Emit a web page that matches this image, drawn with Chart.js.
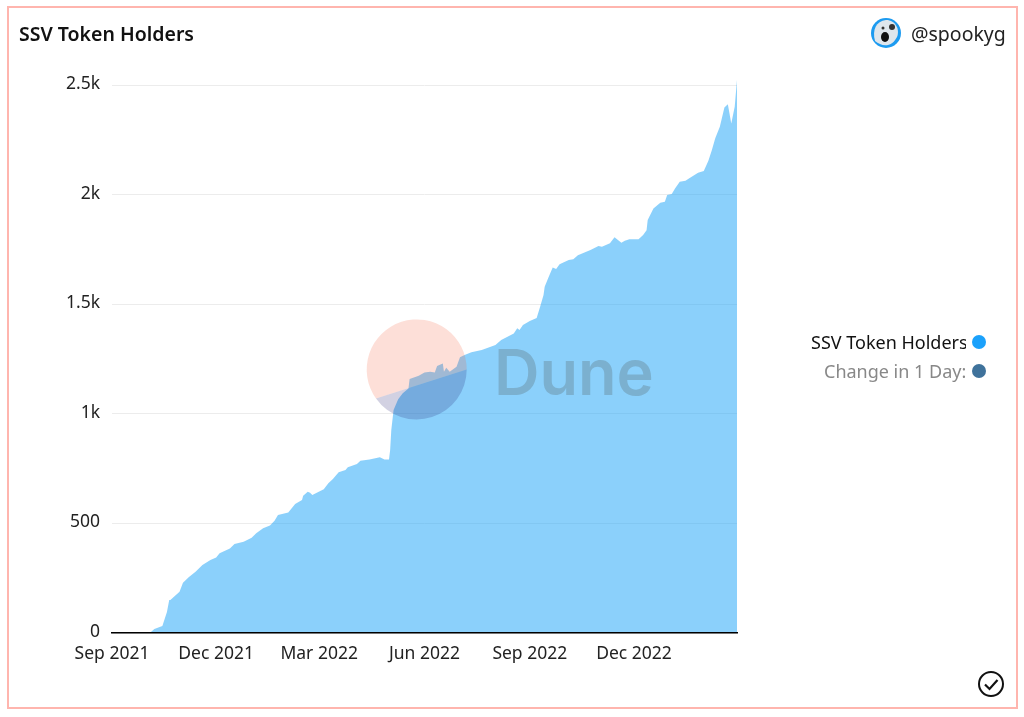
<!DOCTYPE html>
<html>
<head>
<meta charset="utf-8">
<title>SSV Token Holders</title>
<script src="https://cdn.jsdelivr.net/npm/chart.js@4"></script>
<style>
  html, body { margin: 0; padding: 0; background: #fff; }
  body { width: 1024px; height: 717px; position: relative; overflow: hidden; font-family: "Noto Sans", sans-serif; color: #111; }
  #frame { position: absolute; left: 7px; top: 6px; border: 2px solid #ffb5ae; width: 1007px; height: 699px; }
  #graph { position: absolute; left: 0; top: 0; }
  #title { position: absolute; left: 19px; top: 21px; font-size: 19.5px; font-weight: 600; line-height: 26px; white-space: nowrap; }
  #author { position: absolute; left: 911px; top: 20px; font-size: 19.5px; line-height: 28px; color: #222; white-space: nowrap; }
  .legend-text { position: absolute; font-size: 18px; line-height: 24px; white-space: nowrap; overflow: hidden; text-align: left; }
  .legend-dot { position: absolute; left: 972px; width: 14px; height: 14px; border-radius: 50%; }
  svg { position: absolute; left: 0; top: 0; }
</style>
</head>
<body>
<canvas id="graph" width="1024" height="717"></canvas>
<div id="frame"></div>
<svg width="1024" height="717">
  <path d="M376 398.5 A50 50 0 1 1 466.7 369.5 Z" fill="rgba(244,96,62,0.2)"/>
  <path d="M376 398.5 A50 50 0 0 0 466.7 369.5 Z" fill="rgba(30,24,112,0.2)"/>
  <text x="494" y="395" font-family="Inter" font-size="63" font-weight="600" fill="rgba(58,48,36,0.2)">Dune</text>
  <circle cx="886" cy="33" r="15" fill="#1d9bf0"/>
  <path d="M875 41 C872 30 876 21 886 20 C896 20 900 30 897 37 C894 42 892 44 888 45 C883 46 879 44 875 41 Z" fill="#dfe6ec"/>
  <ellipse cx="885" cy="37" rx="4" ry="5" fill="#111"/>
  <circle cx="892" cy="27" r="3" fill="#333"/>
  <circle cx="883" cy="28" r="1.5" fill="#333"/>
  <circle cx="991" cy="684" r="12" fill="none" stroke="#111" stroke-width="2"/>
  <path d="M985 684.5 L989.5 689 L997.5 680" fill="none" stroke="#111" stroke-width="2.2"/>
</svg>
<div id="title">SSV Token Holders</div>
<div id="author">@spookyg</div>
<div id="legend"></div>

<script>
// days since 1 Sep 2021
const days = [0, 33, 37, 44, 48, 50, 51, 59, 62, 67, 73, 79, 86, 91, 94, 103, 107, 115, 122, 126, 132, 138, 142, 145, 154, 160, 166, 167, 171, 173, 175, 185, 189, 193, 198, 204, 206, 214, 217, 225, 234, 238, 242, 243, 244, 246, 250, 254, 259, 260, 268, 273, 278, 282, 284, 289, 290, 292, 295, 301, 304, 308, 314, 323, 335, 340, 351, 354, 356, 359, 365, 371, 374, 377, 378, 381, 385, 388, 391, 399, 403, 407, 418, 425, 428, 435, 439, 445, 448, 452, 460, 464, 467, 468, 473, 479, 483, 485, 489, 492, 496, 501, 504, 512, 517, 521, 524, 527, 531, 535, 538, 541, 544, 546];
const holders = [0, 0, 18, 32, 96, 150, 150, 188, 229, 254, 280, 310, 333, 345, 364, 386, 406, 416, 435, 455, 478, 490, 512, 538, 550, 588, 607, 626, 645, 640, 630, 656, 683, 703, 733, 744, 756, 771, 786, 792, 802, 792, 792, 835, 926, 1017, 1066, 1094, 1116, 1159, 1174, 1189, 1192, 1189, 1218, 1230, 1192, 1210, 1192, 1215, 1258, 1268, 1281, 1291, 1314, 1337, 1367, 1390, 1382, 1405, 1423, 1437, 1489, 1542, 1580, 1618, 1667, 1661, 1682, 1702, 1705, 1724, 1747, 1766, 1762, 1778, 1805, 1781, 1790, 1796, 1797, 1816, 1838, 1884, 1937, 1963, 1968, 1998, 2003, 2029, 2059, 2063, 2074, 2100, 2108, 2155, 2203, 2257, 2310, 2398, 2412, 2325, 2401, 2523];
const xTickDays = [0, 91, 181, 273, 365, 456];
const xTickLabels = ["Sep 2021", "Dec 2021", "Mar 2022", "Jun 2022", "Sep 2022", "Dec 2022"];
const yTicks = [0, 500, 1000, 1500, 2000, 2500];
const legendNames = ["SSV Token Holders", "Change in 1 Day:"];

const tickFont = { family: "Noto Sans", size: 17.5 };

var ctx = document.getElementById('graph').getContext('2d');
var myChart = new Chart(ctx, {
    type: 'line',
    data: {
        datasets: [{
            label: legendNames[0],
            data: days.map((d, i) => ({ x: d, y: holders[i] })),
            fill: 'origin',
            backgroundColor: 'rgba(24,161,248,0.5)',
            borderWidth: 0,
            pointRadius: 0,
            tension: 0
        }]
    },
    options: {
        responsive: false,
        animation: false,
        devicePixelRatio: 1,
        layout: {
            padding: { top: 80, right: 287, left: 0, bottom: 0 }
        },
        scales: {
            x: {
                type: 'linear',
                min: 0,
                max: 546,
                afterBuildTicks: (axis) => { axis.ticks = xTickDays.map(v => ({ value: v })); },
                afterFit: (axis) => { axis.height = 84; },
                ticks: {
                    autoSkip: false,
                    maxRotation: 0,
                    padding: 3,
                    color: '#222',
                    font: tickFont,
                    callback: (v) => xTickLabels[xTickDays.indexOf(v)]
                },
                grid: { display: false },
                border: { color: '#000', width: 1.5, z: 1 }
            },
            y: {
                min: 0,
                max: 2523,
                afterBuildTicks: (axis) => { axis.ticks = yTicks.map(v => ({ value: v })); },
                afterFit: (axis) => { axis.width = 112; },
                ticks: {
                    padding: 12,
                    labelOffset: -1,
                    color: '#222',
                    font: tickFont,
                    callback: (v) => v >= 1000 ? (v / 1000) + 'k' : v
                },
                grid: { color: '#ececec', drawTicks: false },
                border: { display: false }
            }
        },
        plugins: {
            legend: { display: false },
            tooltip: { enabled: false }
        }
    }
});

// legend next to the plot, first name is cut off like in the dashboard
const legendBox = document.getElementById('legend');
const legendColors = ['#1ba1fb', '#3f729b'];
const legendTextColors = ['#111', '#888'];
const legendLefts = [811, 824];
const legendTops = [330, 359];
legendNames.forEach((name, i) => {
    let text = document.createElement('div');
    text.className = 'legend-text';
    text.textContent = name;
    text.style.left = legendLefts[i] + 'px';
    text.style.width = (966 - legendLefts[i]) + 'px';
    text.style.top = legendTops[i] + 'px';
    text.style.color = legendTextColors[i];
    let dot = document.createElement('div');
    dot.className = 'legend-dot';
    dot.style.top = (legendTops[i] + 5) + 'px';
    dot.style.background = legendColors[i];
    legendBox.append(text, dot);
});
</script>
</body>
</html>
